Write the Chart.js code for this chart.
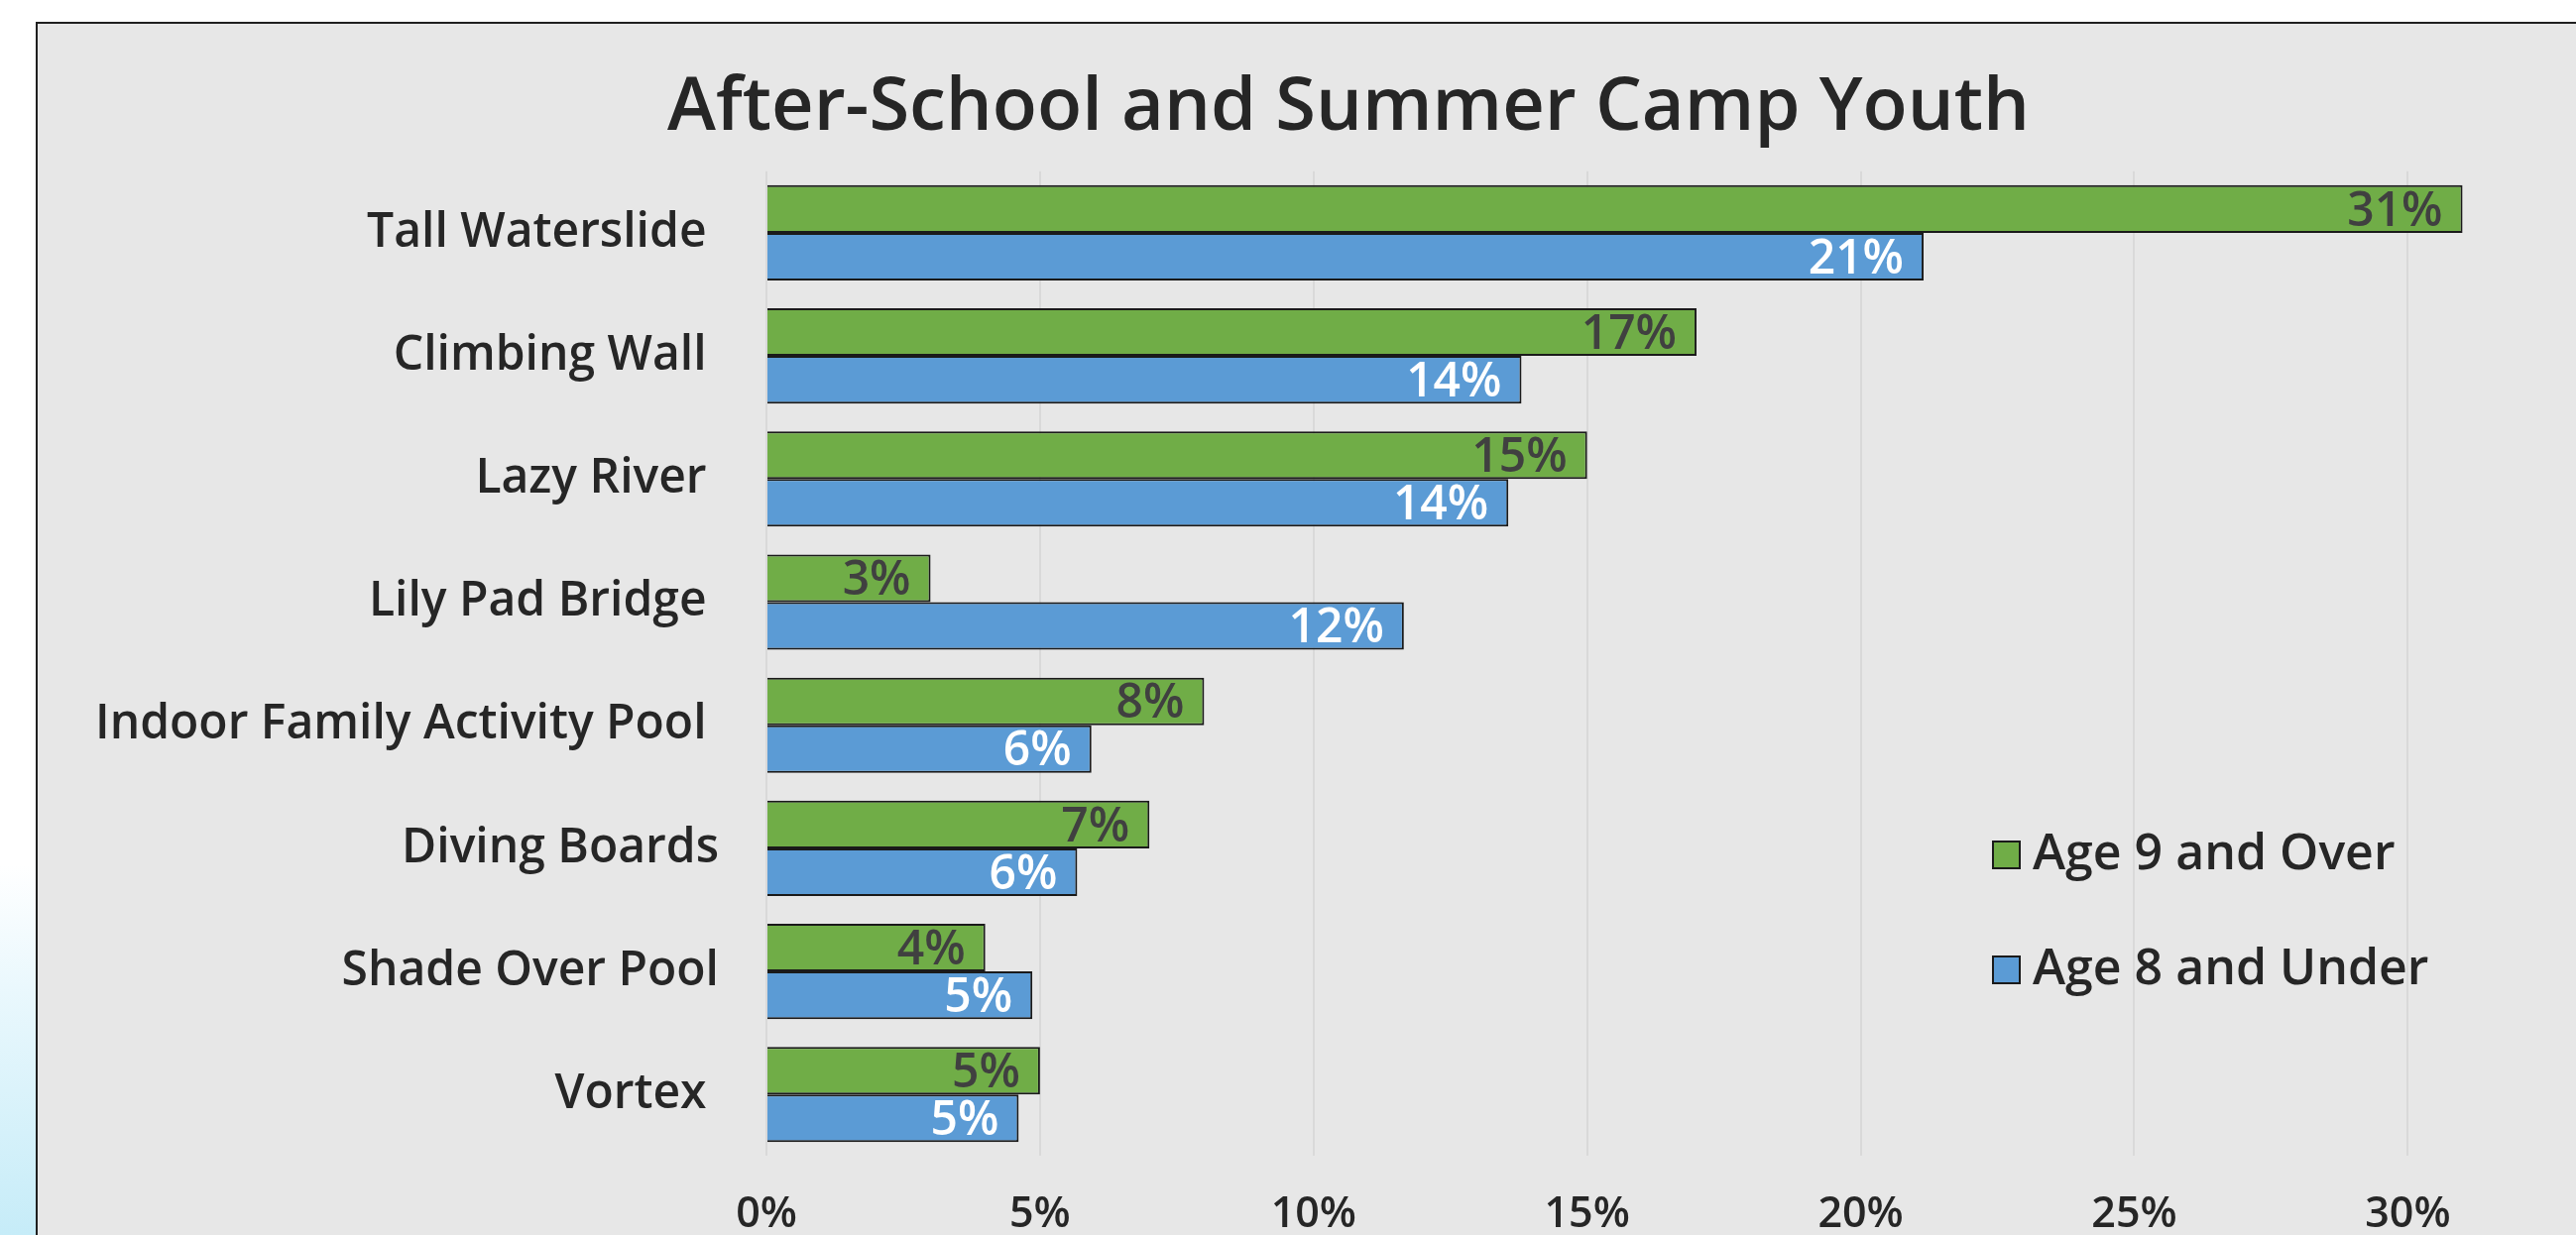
<!DOCTYPE html>
<html>
<head>
<meta charset="utf-8">
<script src="https://cdn.jsdelivr.net/npm/chart.js@4/dist/chart.umd.min.js"></script>
<style>
    html, body {
        margin: 0;
        padding: 0;
        width: 2598px;
        height: 1246px;
        overflow: hidden;
        background: linear-gradient(to bottom, #ffffff 0%, #ffffff 70%, #eaf8fd 80%, #c6ecf8 100%);
    }
    #frame {
        position: absolute;
        left: 36px;
        top: 22px;
        width: 2644px;
        height: 1270px;
        border: 2px solid #1f1f1f;
        background: #e7e7e7;
    }
</style>
</head>
<body>
<div id="frame">
    <canvas id="youth-chart" width="2644" height="1262"></canvas>
</div>
<script>
    // categories, top to bottom (trailing spaces as in the original labels)
    var categories = [
        'Tall Waterslide ',
        'Climbing Wall ',
        'Lazy River ',
        'Lily Pad Bridge ',
        'Indoor Family Activity Pool ',
        'Diving Boards',
        'Shade Over Pool',
        'Vortex '
    ];

    // percent of respondents
    var age9AndOver = [31.0, 17.0, 15.0, 3.0, 8.0, 7.0, 4.0, 5.0];
    var age8AndUnder = [21.15, 13.8, 13.56, 11.65, 5.94, 5.68, 4.86, 4.61];

    var seriesNames = ['Age 9 and Over', 'Age 8 and Under'];
    var xTickStep = 5;
    var xMax = 33.98;

    var fontFamily = '"Open Sans", Roboto, sans-serif';

    var barLabels = {
        id: 'barLabels',
        afterDatasetsDraw: function (chart) {
            var ctx = chart.ctx;
            ctx.save();
            ctx.font = '600 48px ' + fontFamily;
            ctx.textAlign = 'right';
            ctx.textBaseline = 'middle';
            chart.data.datasets.forEach(function (ds, i) {
                var meta = chart.getDatasetMeta(i);
                ctx.fillStyle = ds.labelColor;
                meta.data.forEach(function (bar, j) {
                    ctx.fillText(Math.round(ds.data[j]) + '%', bar.x - 20, bar.y + 3);
                });
            });
            ctx.restore();
        }
    };

    var boxLegend = {
        id: 'boxLegend',
        afterDraw: function (chart, args, opts) {
            var ctx = chart.ctx;
            ctx.save();
            ctx.font = '600 50px ' + fontFamily;
            ctx.textBaseline = 'middle';
            ctx.textAlign = 'left';
            chart.data.datasets.forEach(function (ds, i) {
                var y = opts.y + i * opts.rowGap;
                ctx.fillStyle = ds.backgroundColor;
                ctx.fillRect(opts.x, y - 13, 27, 27);
                ctx.lineWidth = 2;
                ctx.strokeStyle = '#1a1a1a';
                ctx.strokeRect(opts.x, y - 13, 27, 27);
                ctx.fillStyle = '#262626';
                ctx.fillText(ds.label, opts.x + 40, y + 1);
            });
            ctx.restore();
        }
    };

    var ctx = document.getElementById('youth-chart').getContext('2d');

    var chart = new Chart(ctx, {
        type: 'bar',
        data: {
            labels: categories,
            datasets: [
                {
                    label: seriesNames[0],
                    data: age9AndOver,
                    backgroundColor: '#70ad47',
                    borderColor: '#1a1a1a',
                    borderWidth: 2,
                    labelColor: '#404040',
                    categoryPercentage: 0.774,
                    barPercentage: 1.0
                },
                {
                    label: seriesNames[1],
                    data: age8AndUnder,
                    backgroundColor: '#5b9bd5',
                    borderColor: '#1a1a1a',
                    borderWidth: 2,
                    labelColor: '#ffffff',
                    categoryPercentage: 0.774,
                    barPercentage: 1.0
                }
            ]
        },
        options: {
            indexAxis: 'y',
            responsive: false,
            animation: false,
            devicePixelRatio: 1,
            layout: {
                padding: { top: 0, left: 0, right: 0, bottom: 0 }
            },
            scales: {
                x: {
                    min: 0,
                    max: xMax,
                    grid: {
                        color: '#d9d9d9',
                        lineWidth: 2,
                        drawTicks: false
                    },
                    border: { display: false },
                    ticks: {
                        stepSize: xTickStep,
                        autoSkip: false,
                        maxRotation: 0,
                        padding: 34,
                        color: '#262626',
                        font: { family: fontFamily, size: 43, weight: '600' },
                        callback: function (v) {
                            return v % xTickStep === 0 ? v + '%' : '';
                        }
                    }
                },
                y: {
                    grid: { display: false },
                    border: { display: false },
                    ticks: {
                        padding: 40,
                        color: '#262626',
                        font: { family: fontFamily, size: 48, weight: '600' }
                    },
                    afterFit: function (scale) {
                        scale.width = 735;
                    }
                }
            },
            plugins: {
                legend: { display: false },
                tooltip: { enabled: false },
                title: {
                    display: true,
                    text: 'After-School and Summer Camp Youth',
                    color: '#262626',
                    font: { family: fontFamily, size: 74, weight: '600', lineHeight: 1.2 },
                    padding: { top: 42, bottom: 18 }
                },
                boxLegend: { x: 1972, y: 838, rowGap: 116 }
            }
        },
        plugins: [barLabels, boxLegend]
    });
</script>
</body>
</html>
